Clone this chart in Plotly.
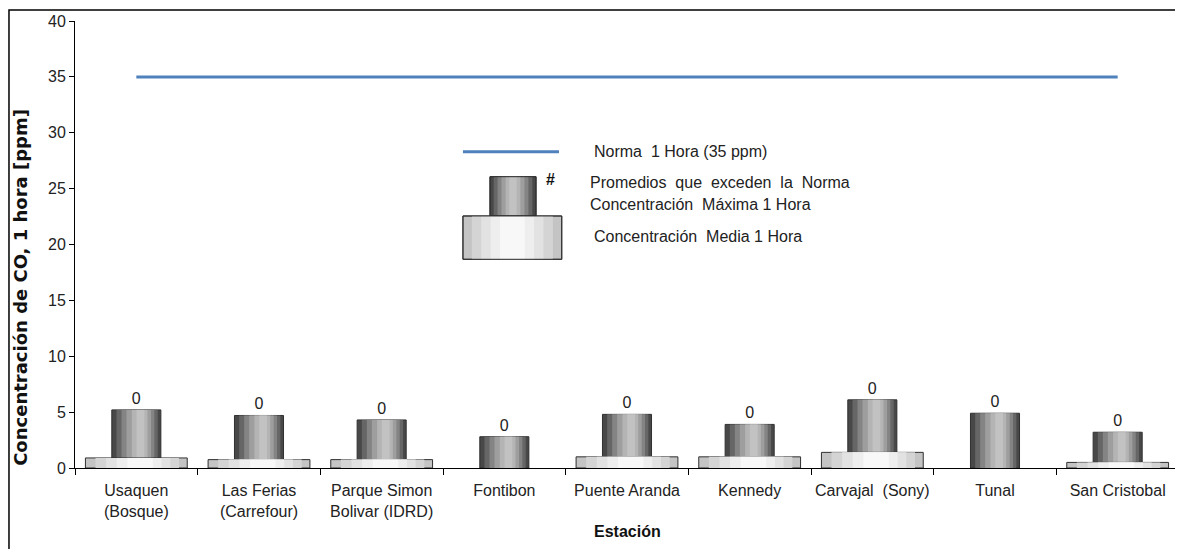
import plotly.graph_objects as go

# data
estaciones = ["Usaquen<br>(Bosque)", "Las Ferias<br>(Carrefour)", "Parque Simon<br>Bolivar (IDRD)",
              "Fontibon", "Puente Aranda", "Kennedy", "Carvajal  (Sony)", "Tunal", "San Cristobal"]
maxima = [5.2, 4.7, 4.3, 2.8, 4.8, 3.9, 6.1, 4.9, 3.2]
media = [0.9, 0.75, 0.75, None, 1.0, 1.0, 1.4, None, 0.5]
excedencias = [0, 0, 0, 0, 0, 0, 0, 0, 0]
norma = 35

FONT = "Liberation Sans, Arial, sans-serif"

# (fraction of full width, colour) - stacked narrower/lighter to fake the cylinder shading
dark_layers = [(1.0, "#484848"), (0.84, "#666666"), (0.67, "#848484"), (0.5, "#9e9e9e"), (0.32, "#b4b4b4"), (0.16, "#c2c2c2")]
light_layers = [(1.0, "#c4c4c4"), (0.82, "#d4d4d4"), (0.63, "#e2e2e2"), (0.44, "#eeeeee"), (0.25, "#f8f8f8")]

W_MAX = 0.40
W_MED = 0.83

fig = go.Figure()

for i, (f, col) in enumerate(dark_layers):
    w = W_MAX * f
    fig.add_trace(go.Bar(
        x=estaciones, y=maxima, width=w, offset=-w / 2 + 0.1 * (W_MAX - w),
        marker=dict(color=col, line=dict(color="#303030", width=1 if i == 0 else 0)),
        text=[str(e) for e in excedencias] if i == 0 else None,
        textposition="outside" if i == 0 else "none",
        textfont=dict(family=FONT, size=16, color="#222"),
        cliponaxis=False, showlegend=False, hoverinfo="skip"))

for i, (f, col) in enumerate(light_layers):
    w = W_MED * f
    fig.add_trace(go.Bar(
        x=estaciones, y=media, width=w, offset=-w / 2 + 0.05 * (W_MED - w),
        marker=dict(color=col, line=dict(color="#303030", width=1 if i == 0 else 0)),
        showlegend=False, hoverinfo="skip"))

fig.add_trace(go.Scatter(x=estaciones, y=[norma] * len(estaciones), mode="lines",
                         line=dict(color="#4f81bd", width=3), showlegend=False))

# hand drawn legend box, paper coordinates
shapes = []
shapes.append(dict(type="line", xref="paper", yref="paper", x0=0.3514, x1=0.4384, y0=0.7076, y1=0.7076,
                   line=dict(color="#4f81bd", width=3)))


def sample(x0, x1, y0, y1, layers):
    cx = (x0 + x1) / 2
    half = (x1 - x0) / 2
    for i, (f, col) in enumerate(layers):
        shapes.append(dict(type="rect", xref="paper", yref="paper",
                           x0=cx - half * f, x1=cx + half * f, y0=y0, y1=y1,
                           fillcolor=col, line=dict(color="#303030", width=1 if i == 0 else 0)))
    shapes.append(dict(type="rect", xref="paper", yref="paper", x0=x0, x1=x1, y0=y0, y1=y1,
                       line=dict(color="#303030", width=1)))


sample(0.3759, 0.4176, 0.5638, 0.6517, dark_layers)
sample(0.3514, 0.4409, 0.4669, 0.5638, light_layers)

# outer frame of the chart
shapes.append(dict(type="rect", xref="paper", yref="paper", x0=-0.0598, x1=1.02, y0=-0.3, y1=1.0246,
                   line=dict(color="black", width=1.5), layer="below"))

ann = [
    dict(x=0.468, y=0.7076, text="Norma  1 Hora (35 ppm)", xanchor="left"),
    dict(x=0.431, y=0.646, text="<b>#</b>", xanchor="center", font=dict(family=FONT, size=16, color="#111")),
    dict(x=0.4647, y=0.6376, text="Promedios  que  exceden  la  Norma", xanchor="left"),
    dict(x=0.4647, y=0.5884, text="Concentración  Máxima 1 Hora", xanchor="left"),
    dict(x=0.468, y=0.5174, text="Concentración  Media 1 Hora", xanchor="left"),
    dict(x=0.5, y=-0.1425, text="<b>Estación</b>", xanchor="center", font=dict(family=FONT, size=16, color="#111")),
    dict(x=-0.049, y=0.405, text="<b>Concentración de CO, 1 hora [ppm]</b>", textangle=-90,
         xanchor="center", yanchor="middle", font=dict(family="DejaVu Sans, sans-serif", size=18, color="#111")),
]
for a in ann:
    a.setdefault("font", dict(family=FONT, size=16, color="#222"))
    a.update(xref="paper", yref="paper", showarrow=False, yanchor=a.get("yanchor", "middle"))

# page body has an 8px margin, so the figure is 8px smaller and the margins shifted
fig.update_layout(
    width=1175, height=541,
    margin=dict(l=67, r=4, t=13, b=81, autoexpand=False),
    barmode="overlay",
    plot_bgcolor="white", paper_bgcolor="white",
    font=dict(family=FONT, size=16, color="#222"),
    shapes=shapes, annotations=ann,
    xaxis=dict(showline=True, linecolor="black", linewidth=1, ticks="outside", ticklen=6,
               tickcolor="black", tickson="boundaries", showgrid=False, tickangle=0,
               ticklabelstandoff=8, automargin=False,
               tickfont=dict(family=FONT, size=16, color="#222")),
    yaxis=dict(range=[0, 40], dtick=5, showline=True, linecolor="black", linewidth=1,
               ticks="outside", ticklen=5, tickcolor="black", showgrid=False, zeroline=False,
               automargin=False, tickfont=dict(family=FONT, size=16, color="#222")),
)

fig.write_html("out.html")
